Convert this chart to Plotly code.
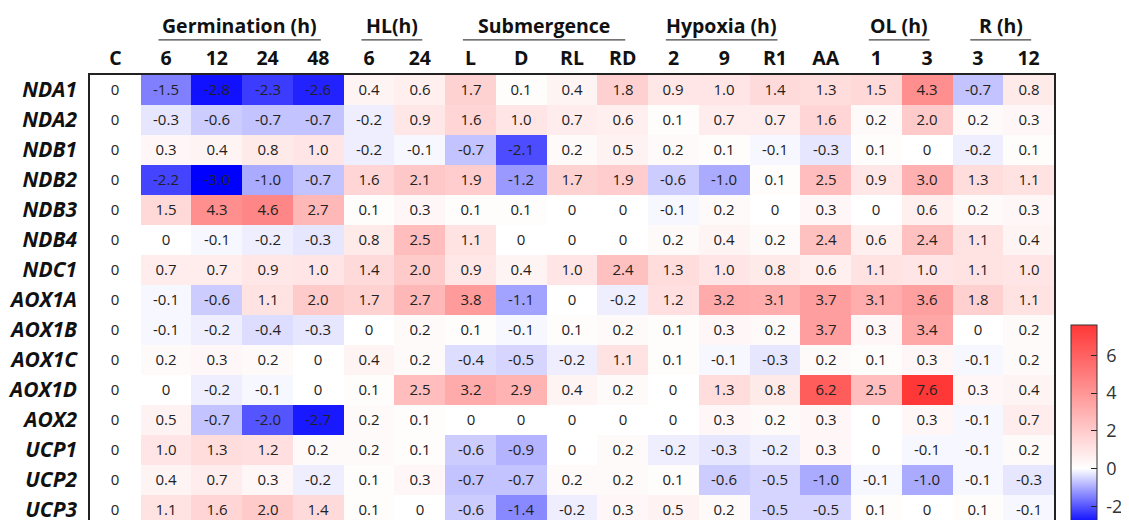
import plotly.graph_objects as go

columns = ["C", "6", "12", "24", "48", "6", "24", "L", "D", "RL", "RD",
           "2", "9", "R1", "AA", "1", "3", "3", "12"]
genes = ["NDA1", "NDA2", "NDB1", "NDB2", "NDB3", "NDB4", "NDC1", "AOX1A",
         "AOX1B", "AOX1C", "AOX1D", "AOX2", "UCP1", "UCP2", "UCP3"]

NDA1 = [0, -1.5, -2.8, -2.3, -2.6, 0.4, 0.6, 1.7, 0.1, 0.4, 1.8, 0.9, 1.0, 1.4, 1.3, 1.5, 4.3, -0.7, 0.8]
NDA2 = [0, -0.3, -0.6, -0.7, -0.7, -0.2, 0.9, 1.6, 1.0, 0.7, 0.6, 0.1, 0.7, 0.7, 1.6, 0.2, 2.0, 0.2, 0.3]
NDB1 = [0, 0.3, 0.4, 0.8, 1.0, -0.2, -0.1, -0.7, -2.1, 0.2, 0.5, 0.2, 0.1, -0.1, -0.3, 0.1, 0, -0.2, 0.1]
NDB2 = [0, -2.2, -3.0, -1.0, -0.7, 1.6, 2.1, 1.9, -1.2, 1.7, 1.9, -0.6, -1.0, 0.1, 2.5, 0.9, 3.0, 1.3, 1.1]
NDB3 = [0, 1.5, 4.3, 4.6, 2.7, 0.1, 0.3, 0.1, 0.1, 0, 0, -0.1, 0.2, 0, 0.3, 0, 0.6, 0.2, 0.3]
NDB4 = [0, 0, -0.1, -0.2, -0.3, 0.8, 2.5, 1.1, 0, 0, 0, 0.2, 0.4, 0.2, 2.4, 0.6, 2.4, 1.1, 0.4]
NDC1 = [0, 0.7, 0.7, 0.9, 1.0, 1.4, 2.0, 0.9, 0.4, 1.0, 2.4, 1.3, 1.0, 0.8, 0.6, 1.1, 1.0, 1.1, 1.0]
AOX1A = [0, -0.1, -0.6, 1.1, 2.0, 1.7, 2.7, 3.8, -1.1, 0, -0.2, 1.2, 3.2, 3.1, 3.7, 3.1, 3.6, 1.8, 1.1]
AOX1B = [0, -0.1, -0.2, -0.4, -0.3, 0, 0.2, 0.1, -0.1, 0.1, 0.2, 0.1, 0.3, 0.2, 3.7, 0.3, 3.4, 0, 0.2]
AOX1C = [0, 0.2, 0.3, 0.2, 0, 0.4, 0.2, -0.4, -0.5, -0.2, 1.1, 0.1, -0.1, -0.3, 0.2, 0.1, 0.3, -0.1, 0.2]
AOX1D = [0, 0, -0.2, -0.1, 0, 0.1, 2.5, 3.2, 2.9, 0.4, 0.2, 0, 1.3, 0.8, 6.2, 2.5, 7.6, 0.3, 0.4]
AOX2 = [0, 0.5, -0.7, -2.0, -2.7, 0.2, 0.1, 0, 0, 0, 0, 0, 0.3, 0.2, 0.3, 0, 0.3, -0.1, 0.7]
UCP1 = [0, 1.0, 1.3, 1.2, 0.2, 0.2, 0.1, -0.6, -0.9, 0, 0.2, -0.2, -0.3, -0.2, 0.3, 0, -0.1, -0.1, 0.2]
UCP2 = [0, 0.4, 0.7, 0.3, -0.2, 0.1, 0.3, -0.7, -0.7, 0.2, 0.2, 0.1, -0.6, -0.5, -1.0, -0.1, -1.0, -0.1, -0.3]
UCP3 = [0, 1.1, 1.6, 2.0, 1.4, 0.1, 0, -0.6, -1.4, -0.2, 0.3, 0.5, 0.2, -0.5, -0.5, 0.1, 0, 0.1, -0.1]

values = [NDA1, NDA2, NDB1, NDB2, NDB3, NDB4, NDC1, AOX1A, AOX1B, AOX1C,
          AOX1D, AOX2, UCP1, UCP2, UCP3]

groups = [("Germination (h)", 1, 4), ("HL(h)", 5, 6), ("Submergence", 7, 10),
          ("Hypoxia (h)", 11, 13), ("OL (h)", 15, 16), ("R (h)", 17, 18)]

colorbar_ticks = [-2, 0, 2, 4, 6]
colorbar_labels = ["-2", "0", "2", "4", "6"]
zmin, zmax = -3.0, 7.6

FONT = "Open Sans"

text = [["0" if v == 0 else f"{v:.1f}" for v in row] for row in values]
xidx = list(range(len(columns)))
yidx = list(range(len(genes)))

zero_frac = (0 - zmin) / (zmax - zmin)
colorscale = [
    [0.0, "rgb(0,0,255)"],
    [zero_frac, "rgb(255,255,255)"],
    [1.0, "rgb(255,55,55)"],
]

fig = go.Figure(go.Heatmap(
    z=values, x=xidx, y=yidx, text=text, texttemplate="%{text}",
    textfont=dict(family=FONT, size=15, color="#222222"),
    colorscale=colorscale, zmin=zmin, zmax=zmax,
    colorbar=dict(
        x=1.0177, xanchor="left", y=0.438, yanchor="top",
        thickness=26, thicknessmode="pixels", len=200, lenmode="pixels",
        xpad=0, ypad=0, outlinewidth=1, outlinecolor="#333333",
        tickvals=colorbar_ticks, ticktext=[" " + t for t in colorbar_labels],
        ticks="inside", ticklen=6, tickcolor="#222222",
        tickfont=dict(family=FONT, size=18, color="#333333"),
    ),
    hoverongaps=False,
))

shapes = []
annotations = []
for name, s, e in groups:
    shapes.append(dict(type="line", xref="x", yref="paper",
                       x0=s - 0.15, x1=e + 0.05, y0=1.079, y1=1.079,
                       line=dict(color="#444444", width=1.3)))
    annotations.append(dict(text=f"<b>{name}</b>", xref="x", yref="paper",
                            x=(s + e) / 2 - 0.05, y=1.112, yanchor="middle",
                            showarrow=False,
                            font=dict(family=FONT, size=19.5, color="#111111")))

fig.update_layout(
    width=1121, height=512,
    margin=dict(l=82, r=75, t=67, b=0, autoexpand=False),
    paper_bgcolor="white", plot_bgcolor="white",
    shapes=shapes, annotations=annotations,
    xaxis=dict(side="top", tickvals=xidx,
               ticktext=[f"<b>{c}</b>" for c in columns],
               tickfont=dict(family=FONT, size=19.5, color="#111111"),
               showline=True, linecolor="#222222", linewidth=1.5,
               showgrid=False, zeroline=False, ticks="", automargin=False,
               range=[-0.5, len(columns) - 0.5]),
    yaxis=dict(tickvals=yidx, ticktext=[f"<b><i>{g}</i></b>" for g in genes],
               tickfont=dict(family=FONT, size=21, color="#111111"),
               showline=True, mirror=True, linecolor="#222222", linewidth=1.5,
               showgrid=False, zeroline=False, ticks="", ticklabelstandoff=7,
               ticklabeloverflow="allow",
               automargin=False, range=[14.33, -0.5]),
)

fig.write_html("out.html")
